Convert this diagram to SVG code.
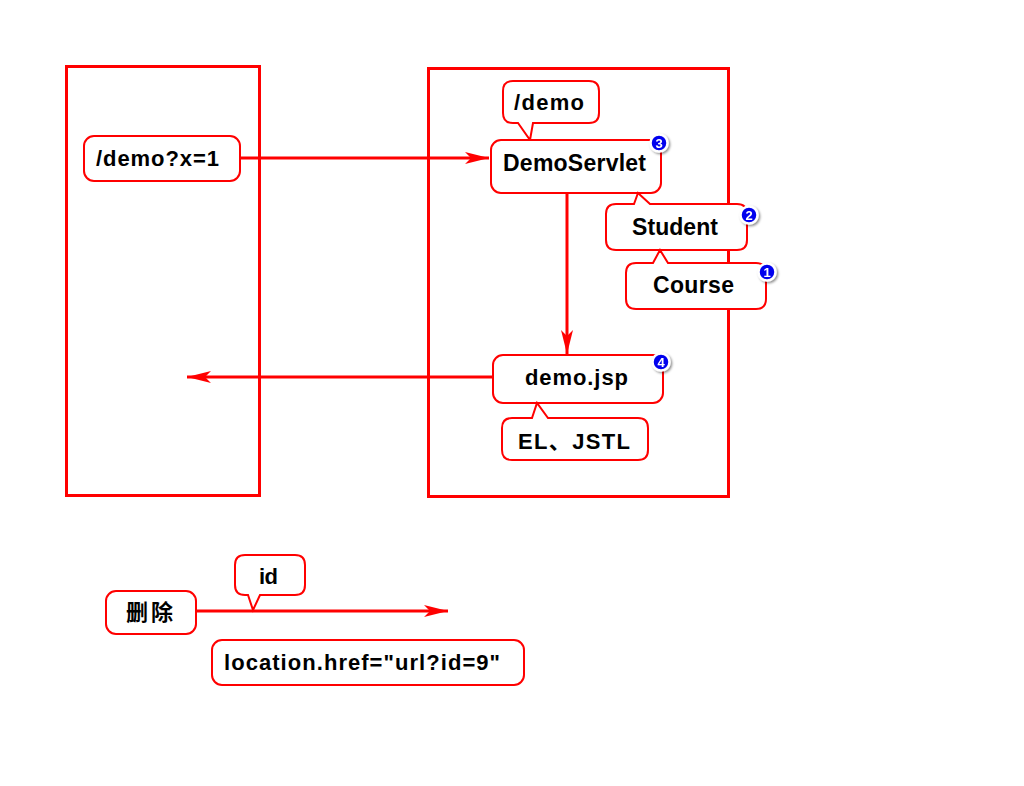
<svg xmlns="http://www.w3.org/2000/svg" width="1024" height="786" viewBox="0 0 1024 786">
<style>
.frame{fill:none;stroke:#ff0000;stroke-width:3}
.box{fill:#ffffff;stroke:#ff0000;stroke-width:2}
.t{font-family:"Liberation Sans",Arial,"Noto Sans CJK SC",sans-serif;font-weight:bold;font-size:22px;fill:#000000}
.big{font-size:23px}
.conn{stroke:#ff0000;stroke-width:3;fill:none}
.badge circle.b{fill:#0000ee;stroke:#ffffff;stroke-width:2.5}
.badge text{font-family:"Liberation Sans",Arial,sans-serif;font-weight:bold;font-size:13px;fill:#ffffff;text-anchor:middle}
</style>
<defs>
<marker id="ah" markerWidth="26" markerHeight="14" refX="24" refY="7" orient="auto" markerUnits="userSpaceOnUse">
<path d="M0,1 L24,7 L0,13 L6,7 Z" fill="#ff0000"/>
</marker>
<filter id="sh" x="-50%" y="-50%" width="200%" height="200%">
<feDropShadow dx="1.5" dy="1.5" stdDeviation="1" flood-color="#000000" flood-opacity="0.45"/>
</filter>
</defs>
<rect width="1024" height="786" fill="#ffffff"/>
<g id="client"><rect class="frame" x="66.5" y="66.5" width="193" height="429"/></g>
<g id="server"><rect class="frame" x="428.5" y="68.5" width="300" height="428"/></g>
<g id="connectors">
<line class="conn" x1="240" y1="158" x2="489" y2="158" marker-end="url(#ah)"/>
<line class="conn" x1="567" y1="193" x2="567" y2="354" marker-end="url(#ah)"/>
<line class="conn" x1="500" y1="377" x2="187" y2="377" marker-end="url(#ah)"/>
<line class="conn" x1="192" y1="611" x2="448" y2="611" marker-end="url(#ah)"/>
</g>
<g id="request"><rect class="box" x="84" y="136" width="156" height="45" rx="10"/><text class="t" x="96" y="166" textLength="123">/demo?x=1</text></g>
<g id="demo-url"><path class="box" d="M513,81 H589 Q599,81 599,91 V113 Q599,123 589,123 H533 L530,140 L518,123 H513 Q503,123 503,113 V91 Q503,81 513,81 Z"/><text class="t" x="514" y="110" textLength="70">/demo</text></g>
<g id="demoservlet"><rect class="box" x="491" y="140" width="170" height="53" rx="10"/><text class="t big" x="503" y="171" textLength="143">DemoServlet</text>
<g class="badge" filter="url(#sh)"><circle class="b" cx="659" cy="143" r="8.5"/><text x="659" y="147.5">3</text></g></g>
<g id="student"><path class="box" d="M616,204 H634 L638,193 L650,204 H737 Q747,204 747,214 V240 Q747,250 737,250 H616 Q606,250 606,240 V214 Q606,204 616,204 Z"/><text class="t big" x="632" y="235" textLength="86">Student</text>
<g class="badge" filter="url(#sh)"><circle class="b" cx="749" cy="215" r="8.5"/><text x="749" y="219.5">2</text></g></g>
<g id="course"><path class="box" d="M636,263 H653 L660,250 L668,263 H756 Q766,263 766,273 V299 Q766,309 756,309 H636 Q626,309 626,299 V273 Q626,263 636,263 Z"/><text class="t big" x="653" y="293" textLength="81">Course</text>
<g class="badge" filter="url(#sh)"><circle class="b" cx="767" cy="272" r="8.5"/><text x="767" y="276.5">1</text></g></g>
<g id="demojsp"><rect class="box" x="493" y="355" width="170" height="48" rx="10"/><text class="t" x="525" y="385" textLength="103">demo.jsp</text>
<g class="badge" filter="url(#sh)"><circle class="b" cx="661" cy="362" r="8.5"/><text x="661" y="366.5">4</text></g></g>
<g id="el-jstl"><path class="box" d="M512,418 H532 L537,403 L548,418 H638 Q648,418 648,428 V450 Q648,460 638,460 H512 Q502,460 502,450 V428 Q502,418 512,418 Z"/><text class="t" x="518" y="449" textLength="112">EL、JSTL</text></g>
<g id="delete"><rect class="box" x="106" y="591" width="90" height="43" rx="10"/><text class="t" x="126" y="620" textLength="47" style="font-family:'Noto Sans CJK SC',sans-serif">删除</text></g>
<g id="id-label"><path class="box" d="M245,555 H295 Q305,555 305,565 V585 Q305,595 295,595 H260 L253,610 L248,595 H245 Q235,595 235,585 V565 Q235,555 245,555 Z"/><text class="t" x="259" y="584" textLength="19">id</text></g>
<g id="location"><rect class="box" x="212" y="640" width="312" height="45" rx="10"/><text class="t" x="224" y="670" textLength="276">location.href=&quot;url?id=9&quot;</text></g>
</svg>
